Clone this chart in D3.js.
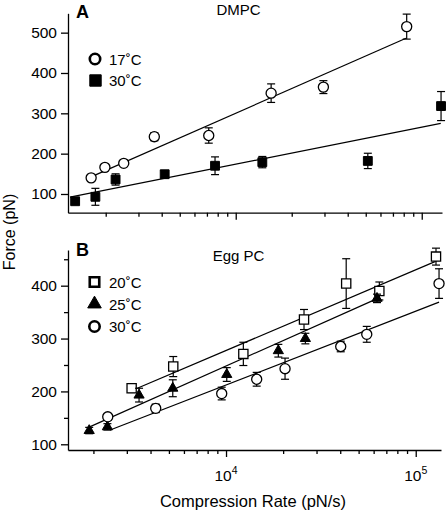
<!DOCTYPE html>
<html><head><meta charset="utf-8">
<script src="https://cdn.jsdelivr.net/npm/d3@7"></script>
<style>
html,body{margin:0;padding:0;background:#fff;}
svg{display:block;}
text{font-family:"Liberation Sans",Arial,Helvetica,sans-serif;fill:#000;}
</style></head><body>
<svg id="chart" width="448" height="513"></svg>
<script>
// ---- Panel A: DMPC ----
const rateA17  = [1670, 1980, 2500, 3650, 7160, 15500, 29600, 83000];
const forceA17 = [140, 166, 176, 242, 245, 350, 365, 515];
const errA17   = [4, 6, 5, 10, 19, 23, 16, 31];
const rateA30  = [1370, 1760, 2260, 4150, 7740, 13900, 51300, 127000];
const forceA30 = [82, 93, 136, 149, 170, 179, 182, 318];
const errA30   = [6, 21, 14, 9, 22, 14, 19, 36];
const fitA17Rate = [1680, 82300],  fitA17Force = [143, 486];
const fitA30Rate = [1285, 126500], fitA30Force = [92, 275];

// ---- Panel B: Egg PC ----
const rateB20  = [3180, 5270, 12340, 25770, 43000, 64300, 127900];
const forceB20 = [206, 247, 271, 336, 404, 390, 455];
const errB20   = [8, 19, 22, 19, 47, 17, 16];
const rateB25  = [1900, 2370, 3480, 5240, 10090, 18870, 26200, 62500];
const forceB25 = [126, 133, 193, 206, 232, 277, 300, 376];
const errB25   = [6, 6, 13, 16, 13, 12, 10, 8];
const rateB30  = [2380, 4260, 9490, 14510, 20470, 40240, 55190, 132700];
const forceB30 = [152, 168, 196, 223, 243, 285, 308, 404];
const errB30   = [6, 8, 12, 13, 20, 10, 15, 28];
const fitB20Rate = [3310, 129000], fitB20Force = [204, 447];
const fitB25Rate = [1860, 62200],  fitB25Force = [131, 375];
const fitB30Rate = [2450, 132700], fitB30Force = [127, 369];

// ---- ticks / labels ----
const yTicksA = [100, 200, 300, 400, 500];
const yTicksB = [100, 200, 300, 400];
const yMinorB = [150, 250, 350, 450];
const xMajor = [1e4, 1e5];
const xMajorExp = ["4", "5"];
const titleA = "DMPC", titleB = "Egg PC";
const legendA = ["17˚C", "30˚C"];
const legendB = ["20˚C", "25˚C", "30˚C"];
const yTitle = "Force (pN)", xTitle = "Compression Rate (pN/s)";

const svg = d3.select("#chart");

function minorTicks(domain) {
  const out = [];
  for (let e = 3; e <= 5; e++) for (let m = 2; m <= 9; m++) {
    const v = m * Math.pow(10, e);
    if (v >= domain[0] && v <= domain[1]) out.push(v);
  }
  return out;
}

function drawPanel(cfg) {
  const g = svg.append("g");
  const x = d3.scaleLog().domain(cfg.xDomain).range(cfg.xRange);
  const y = d3.scaleLinear().domain(cfg.yDomain).range(cfg.yRange);
  const x0 = cfg.xRange[0], yb = cfg.yRange[0];

  // y axis
  const ya = g.append("g").attr("transform", `translate(${x0},0)`)
    .call(d3.axisLeft(y).tickValues(cfg.yTicks).tickSize(7).tickSizeOuter(0).tickPadding(4));
  ya.selectAll("text").style("font-size", "15.5px");
  if (cfg.yMinor) {
    g.append("g").attr("transform", `translate(${x0},0)`)
      .call(d3.axisLeft(y).tickValues(cfg.yMinor).tickSize(4).tickSizeOuter(0).tickFormat(""))
      .select(".domain").remove();
  }
  // x axis
  g.append("g").attr("transform", `translate(0,${yb})`)
    .call(d3.axisBottom(x).tickValues(xMajor.filter(v => v >= cfg.xDomain[0] && v <= cfg.xDomain[1]))
      .tickSize(7).tickSizeOuter(0).tickFormat(""));
  g.append("g").attr("transform", `translate(0,${yb})`)
    .call(d3.axisBottom(x).tickValues(minorTicks(cfg.xDomain)).tickSize(4).tickSizeOuter(0).tickFormat(""))
    .select(".domain").remove();
  g.selectAll(".domain, .tick line").attr("stroke", "#000").attr("stroke-width", 1.3);

  if (cfg.xLabels) {
    xMajor.forEach((v, i) => {
      const t = g.append("text").attr("x", x(v)).attr("y", yb + 31)
        .attr("text-anchor", "middle").style("font-size", "15.5px");
      t.append("tspan").text("10");
      t.append("tspan").attr("dy", -7).style("font-size", "10.5px").text(xMajorExp[i]);
    });
  }

  // fit lines
  cfg.fits.forEach(f => {
    g.append("path")
      .attr("d", d3.line().x(d => x(d[0])).y(d => y(d[1])) (d3.zip(f.rate, f.force)))
      .attr("fill", "none").attr("stroke", "#000").attr("stroke-width", 1.2);
  });

  // series
  cfg.series.forEach(s => {
    const data = d3.zip(s.rate, s.force, s.err);
    const eg = g.append("g").attr("stroke", "#000").attr("stroke-width", 1.2);
    data.forEach(d => {
      const cx = x(d[0]), y1 = y(d[1] + d[2]), y2 = y(d[1] - d[2]);
      eg.append("line").attr("x1", cx).attr("x2", cx).attr("y1", y1).attr("y2", y2);
      eg.append("line").attr("x1", cx - 4).attr("x2", cx + 4).attr("y1", y1).attr("y2", y1);
      eg.append("line").attr("x1", cx - 4).attr("x2", cx + 4).attr("y1", y2).attr("y2", y2);
    });
    g.append("g").selectAll("path").data(data).join("path")
      .attr("transform", d => `translate(${x(d[0])},${y(d[1])})`)
      .attr("d", d3.symbol().type(s.type).size(s.size))
      .attr("fill", s.fill).attr("stroke", "#000").attr("stroke-width", s.sw);
  });

  // legend
  cfg.legend.forEach((L, i) => {
    g.append("path").attr("transform", `translate(${L.mx},${L.my})`)
      .attr("d", d3.symbol().type(L.type).size(L.size))
      .attr("fill", L.fill).attr("stroke", "#000").attr("stroke-width", L.sw);
    g.append("text").attr("x", 109).attr("y", L.my + 5.5).style("font-size", "15px").text(L.label);
  });

  // panel letter and title
  g.append("text").attr("x", 76).attr("y", cfg.letterY).style("font-size", "18px")
    .style("font-weight", "bold").text(cfg.letter);
  g.append("text").attr("x", 238.5).attr("y", cfg.titleY).attr("text-anchor", "middle")
    .style("font-size", "15px").text(cfg.title);
}

drawPanel({
  xDomain: [1254, 128500], xRange: [68, 442],
  yDomain: [53.6, 548], yRange: [212.7, 13.3],
  yTicks: yTicksA, yMinor: null, xLabels: false,
  fits: [{rate: fitA17Rate, force: fitA17Force}, {rate: fitA30Rate, force: fitA30Force}],
  series: [
    {rate: rateA17, force: forceA17, err: errA17, type: d3.symbolCircle, size: 80, fill: "#fff", sw: 1.3},
    {rate: rateA30, force: forceA30, err: errA30, type: d3.symbolSquare, size: 78, fill: "#000", sw: 1}
  ],
  legend: [
    {label: legendA[0], type: d3.symbolCircle, size: 85, fill: "#fff", sw: 2.6, mx: 95, my: 59},
    {label: legendA[1], type: d3.symbolSquare, size: 130, fill: "#000", sw: 1, mx: 95.5, my: 80.5}
  ],
  letter: "A", letterY: 17.5, title: titleA, titleY: 15
});

drawPanel({
  xDomain: [1469, 135900], xRange: [68, 441],
  yDomain: [89.2, 467.5], yRange: [450, 250],
  yTicks: yTicksB, yMinor: yMinorB, xLabels: true,
  fits: [{rate: fitB20Rate, force: fitB20Force}, {rate: fitB25Rate, force: fitB25Force},
         {rate: fitB30Rate, force: fitB30Force}],
  series: [
    {rate: rateB20, force: forceB20, err: errB20, type: d3.symbolSquare, size: 85, fill: "#fff", sw: 1.3},
    {rate: rateB25, force: forceB25, err: errB25, type: d3.symbolTriangle, size: 45, fill: "#000", sw: 1},
    {rate: rateB30, force: forceB30, err: errB30, type: d3.symbolCircle, size: 80, fill: "#fff", sw: 1.3}
  ],
  legend: [
    {label: legendB[0], type: d3.symbolSquare, size: 90, fill: "#fff", sw: 2.6, mx: 94.5, my: 282},
    {label: legendB[1], type: d3.symbolTriangle, size: 80, fill: "#000", sw: 1, mx: 94.5, my: 304},
    {label: legendB[2], type: d3.symbolCircle, size: 85, fill: "#fff", sw: 2.6, mx: 94.5, my: 326.5}
  ],
  letter: "B", letterY: 256, title: titleB, titleY: 261
});

// axis titles
svg.append("text").attr("transform", "translate(15,232) rotate(-90)")
  .attr("text-anchor", "middle").style("font-size", "16px").text(yTitle);
svg.append("text").attr("x", 253).attr("y", 507).attr("text-anchor", "middle")
  .style("font-size", "16.5px").text(xTitle);
</script>
</body></html>
